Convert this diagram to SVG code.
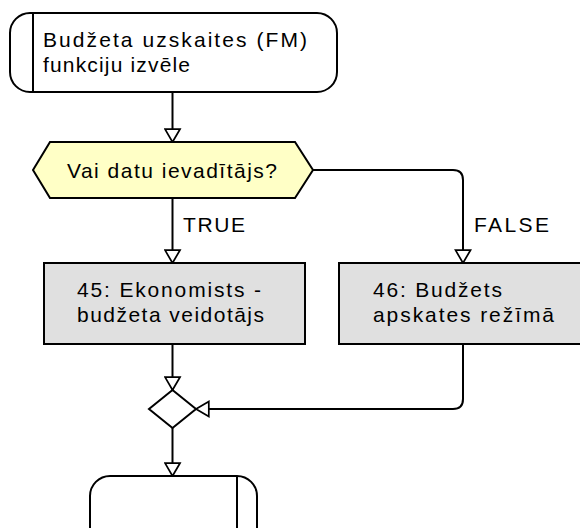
<svg xmlns="http://www.w3.org/2000/svg" width="580" height="528" viewBox="0 0 580 528">
<style>
  .node { stroke: #000; stroke-width: 2; }
  .term { fill: #fff; }
  .dec { fill: #FFFFC6; }
  .act { fill: #E0E0E0; }
  .conn { fill: none; stroke: #000; stroke-width: 2; }
  text { font-family: "Liberation Sans", Arial, sans-serif; font-size: 21px; fill: #000; }
</style>
<defs>
  <marker id="arr" markerUnits="userSpaceOnUse" markerWidth="16" markerHeight="18" viewBox="-1 -1 15 16" refX="12" refY="7" orient="auto">
    <path d="M0,0 L12,7 L0,14 Z" fill="#fff" stroke="#000" stroke-width="1.6" stroke-linejoin="miter"/>
  </marker>
</defs>
<rect width="580" height="528" fill="#fff"/>

<g id="connectors">
  <path class="conn" d="M172.5,92 V142" marker-end="url(#arr)"/>
  <path class="conn" d="M172.5,198 V263" marker-end="url(#arr)"/>
  <path class="conn" d="M313,170 H453 Q463,170 463,180 V263" marker-end="url(#arr)"/>
  <path class="conn" d="M172.5,344 V390" marker-end="url(#arr)"/>
  <path class="conn" d="M463,344 V399 Q463,409 453,409 H196" marker-end="url(#arr)"/>
  <path class="conn" d="M172.5,428 V476" marker-end="url(#arr)"/>
  <text x="183" y="232" textLength="62" lengthAdjust="spacing">TRUE</text>
  <text x="474" y="232" textLength="75" lengthAdjust="spacing">FALSE</text>
</g>

<g id="start">
  <rect class="node term" x="10" y="13" width="327" height="79" rx="20" ry="20"/>
  <line class="node" x1="33" y1="13" x2="33" y2="92"/>
  <text x="43" y="47" textLength="264" lengthAdjust="spacing">Budžeta uzskaites (FM)</text>
  <text x="43" y="72" textLength="147" lengthAdjust="spacing">funkciju izvēle</text>
</g>

<g id="decision">
  <polygon class="node dec" points="33,170 50,142 295,142 313,170 295,198 50,198"/>
  <text x="67" y="178" textLength="210" lengthAdjust="spacing">Vai datu ievadītājs?</text>
</g>

<g id="act45">
  <rect class="node act" x="44" y="263" width="261" height="81"/>
  <text x="77" y="297" textLength="184" lengthAdjust="spacing">45: Ekonomists -</text>
  <text x="77" y="322" textLength="187" lengthAdjust="spacing">budžeta veidotājs</text>
</g>

<g id="act46">
  <rect class="node act" x="339" y="263" width="255" height="81"/>
  <text x="373" y="297" textLength="129" lengthAdjust="spacing">46: Budžets</text>
  <text x="373" y="322" textLength="181" lengthAdjust="spacing">apskates režīmā</text>
</g>

<g id="merge">
  <polygon class="node term" points="172.5,390 196,409 172.5,428 149,409"/>
</g>

<g id="end">
  <rect class="node term" x="90" y="476" width="167" height="80" rx="20" ry="20"/>
  <line class="node" x1="237" y1="476" x2="237" y2="556"/>
</g>
</svg>
